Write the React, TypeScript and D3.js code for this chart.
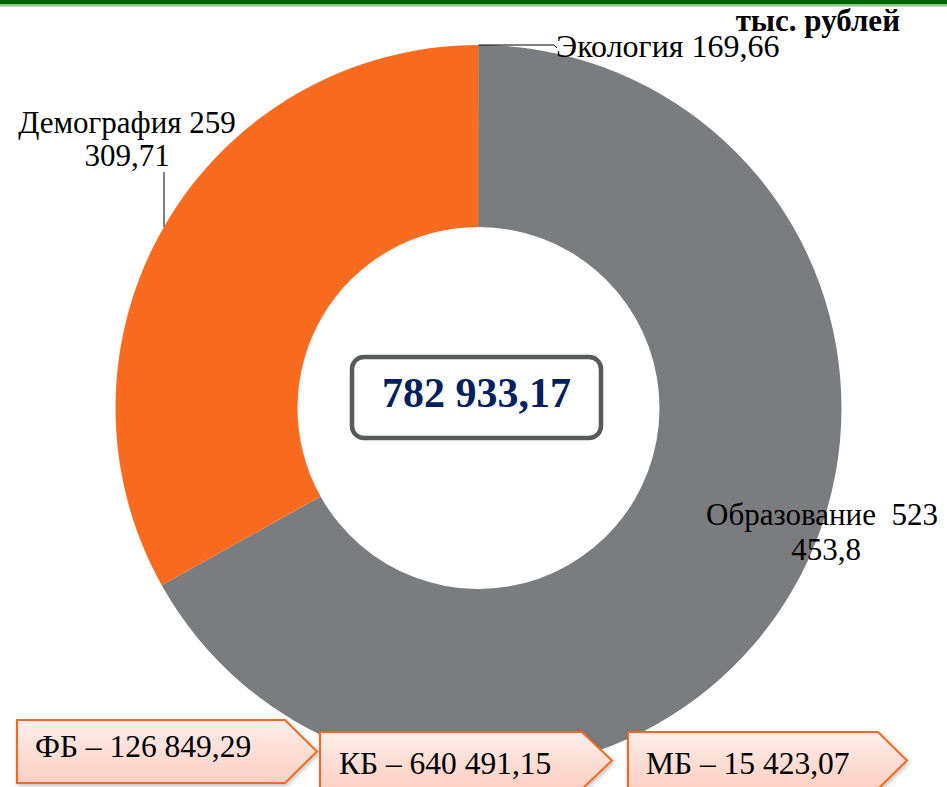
import React from "react";
import * as d3 from "d3";

const categories = ["Экология", "Образование", "Демография"];
const values = [169.66, 523453.8, 259309.71];
const sliceColors = ["#4bacc6", "#7b7c80", "#f96b1e"];

const budgetNames = ["ФБ", "КБ", "МБ"];
const budgetValues = [126849.29, 640491.15, 15423.07];

const unitLabel = "тыс. рублей";

const W = 947;
const H = 787;
const CX = 478.5;
const CY = 408;
const R_OUT = 363;
const R_IN = 181;

const ru = d3.formatLocale({ decimal: ",", thousands: "\u00a0", grouping: [3], currency: ["", ""] });
const fmt2 = ru.format(",.2f");
function fmtNum(v: number): string {
  let s = fmt2(v);
  s = s.replace(/0+$/, "").replace(/,$/, "");
  return s.replace(/\u00a0/g, " ");
}

const FONT = "'Liberation Serif', 'Times New Roman', serif";

export default function App() {
  const pie = d3.pie<number>().sort(null).value((d) => d).startAngle(0).endAngle(2 * Math.PI);
  const arcs = pie(values);
  const arcGen = d3.arc<d3.PieArcDatum<number>>().innerRadius(R_IN).outerRadius(R_OUT);
  const total = d3.sum(values);

  const labels = categories.map((c, i) => ({ c, num: fmtNum(values[i]) }));

  const splitNum = (s: string) => {
    const idx = s.indexOf(" ");
    return idx < 0 ? [s, ""] : [s.slice(0, idx), s.slice(idx + 1)];
  };

  const demo = splitNum(labels[2].num);
  const edu = splitNum(labels[1].num);

  const demoX = 164;
  const demoY = CY - Math.sqrt(R_OUT * R_OUT - (demoX - CX) * (demoX - CX));
  const ecoAngle = (arcs[0].startAngle + arcs[0].endAngle) / 2;
  const ecoX = CX + R_OUT * Math.sin(ecoAngle);
  const ecoY = CY - R_OUT * Math.cos(ecoAngle);

  const boxes = [
    { x: 17, y: 720, w: 268, tip: 32, h: 63, tx: 35, ty: 757 },
    { x: 320, y: 732, w: 262, tip: 30, h: 57, tx: 339, ty: 774 },
    { x: 628, y: 732, w: 250, tip: 29, h: 57, tx: 646, ty: 774 },
  ];

  const boxPath = (b: typeof boxes[0]) =>
    `M${b.x},${b.y} L${b.x + b.w},${b.y} L${b.x + b.w + b.tip},${b.y + b.h / 2} L${b.x + b.w},${b.y + b.h} L${b.x},${b.y + b.h} Z`;

  return (
    <svg
      width={W}
      height={H}
      style={{ position: "absolute", left: 0, top: 0, display: "block", background: "#fff" }}
      fontFamily={FONT}
    >
      <defs>
        <linearGradient id="boxGrad" x1="0" y1="0" x2="0" y2="1">
          <stop offset="0" stopColor="#fdeeea" />
          <stop offset="1" stopColor="#fbcfc2" />
        </linearGradient>
        <filter id="shadow" x="-10%" y="-20%" width="120%" height="150%">
          <feDropShadow dx="1" dy="2" stdDeviation="2" floodColor="#000" floodOpacity="0.25" />
        </filter>
      </defs>

      <rect x={0} y={0} width={W} height={4.5} fill="#006400" />
      <rect x={0} y={4.5} width={W} height={2} fill="#8fc48f" />

      <g transform={`translate(${CX},${CY})`}>
        {arcs.map((a, i) => (
          <path key={categories[i]} d={arcGen(a) || ""} fill={sliceColors[i]} stroke={i === 0 ? sliceColors[0] : "none"} strokeWidth={i === 0 ? 1 : 0} />
        ))}
      </g>

      <text x={900} y={31} textAnchor="end" fontSize={31} fontWeight="bold" fill="#000">
        {unitLabel}
      </text>

      <polyline points={`${ecoX},${ecoY} ${554},${ecoY} ${557},${ecoY + 3}`} fill="none" stroke="#000" strokeWidth={1} />
      <text x={556} y={57} fontSize={32} fill="#000">
        {labels[0].c} {labels[0].num}
      </text>

      <line x1={demoX} y1={172} x2={demoX} y2={demoY} stroke="#000" strokeWidth={1} />
      <text x={127} y={133} textAnchor="middle" fontSize={31} fill="#000">
        {labels[2].c} {demo[0]}
      </text>
      <text x={127} y={166} textAnchor="middle" fontSize={31} fill="#000">
        {demo[1]}
      </text>

      <text x={822} y={525} textAnchor="middle" fontSize={31} fill="#000">
        {labels[1].c + "\u00a0 " + edu[0]}
      </text>
      <text x={826} y={560} textAnchor="middle" fontSize={31} fill="#000">
        {edu[1]}
      </text>

      <rect x={352} y={357} width={249} height={81} rx={12} ry={12} fill="#fff" stroke="#58595b" strokeWidth={4.5} />
      <text x={476.5} y={407} textAnchor="middle" fontSize={42} fontWeight="bold" fill="#002060">
        {fmtNum(total)}
      </text>

      {boxes.map((b, i) => (
        <g key={budgetNames[i]}>
          <path d={boxPath(b)} fill="url(#boxGrad)" stroke="#f26b21" strokeWidth={2} filter="url(#shadow)" />
          <text x={b.tx} y={b.ty} fontSize={31.5} fill="#000">
            {budgetNames[i]} – {fmtNum(budgetValues[i])}
          </text>
        </g>
      ))}
    </svg>
  );
}
